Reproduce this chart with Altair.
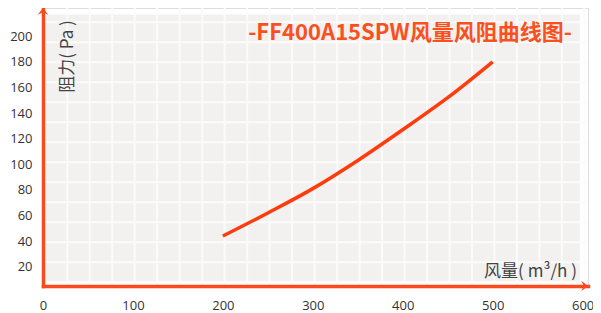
import altair as alt
import pandas as pd

# data
airflow = [200, 250, 300, 350, 400, 450, 500]
resistance = [44, 62, 81, 103, 127, 152, 180]

x_ticks = [0, 100, 200, 300, 400, 500, 600]
y_ticks = [20, 40, 60, 80, 100, 120, 140, 160, 180, 200]
x_grid = list(range(2, 606, 25))
y_grid = [8 + 15.6 * i for i in range(14)]

title_text = "-FF400A15SPW风量风阻曲线图-"
x_title = "风量( m³/h )"
y_title = "阻力( Pa )"

X_DOM = [0, 606]
Y_DOM = [5, 222]
BG_EXT = {"q": [3], "q2": [597], "p": [9], "p2": [217]}

AXIS_COLOR = "#f84a1c"
LINE_COLOR = "#ff3c0c"

df = pd.DataFrame({"q": airflow, "p": resistance})

xs = alt.Scale(domain=X_DOM, nice=False, zero=False)
ys = alt.Scale(domain=Y_DOM, nice=False, zero=False)

x_axis = alt.Axis(
    values=x_ticks, grid=False, ticks=False, domain=True, domainColor=AXIS_COLOR, domainWidth=3.5,
    domainCap="square", labelFont="Open Sans", labelFontSize=13, labelColor="#333333",
    labelPadding=13, labelFlush=False, zindex=1,
    title=x_title, titleFont="Noto Sans CJK SC", titleFontSize=17, titleFontWeight=400,
    titleColor="#444444", titleX=487, titleY=-15, titleAlign="center", titleBaseline="middle")
y_axis = alt.Axis(
    values=y_ticks, grid=False, ticks=False, domain=True, domainColor=AXIS_COLOR, domainWidth=3.5,
    domainCap="square", labelFont="Open Sans", labelFontSize=13, labelColor="#333333",
    labelPadding=11, labelFlush=False, zindex=1,
    title=y_title, titleFont="Noto Sans CJK SC", titleFontSize=17, titleFontWeight=400,
    titleColor="#444444", titleX=24, titleY=48, titleAngle=270, titleAlign="center",
    titleBaseline="middle")

x_enc = alt.X("q:Q", scale=xs, axis=x_axis)
y_enc = alt.Y("p:Q", scale=ys, axis=y_axis)

bg = alt.Chart(pd.DataFrame(BG_EXT)).mark_rect(color="#f2f1ef").encode(
    x=x_enc, x2="q2:Q", y=y_enc, y2="p2:Q")
vgrid = alt.Chart(pd.DataFrame({"q": x_grid})).mark_rule(color="#fbfbfb", strokeWidth=2).encode(x=x_enc)
hgrid = alt.Chart(pd.DataFrame({"p": y_grid})).mark_rule(color="#fbfbfb", strokeWidth=2).encode(y=y_enc)

line = alt.Chart(df).mark_line(color=LINE_COLOR, strokeWidth=3.5, interpolate="monotone", clip=False).encode(
    x=x_enc, y=y_enc)

up_df = pd.DataFrame({"q": [X_DOM[0]], "p": [Y_DOM[1]]})
right_df = pd.DataFrame({"q": [X_DOM[1]], "p": [Y_DOM[0]]})
up_arrow = alt.Chart(up_df).mark_point(
    shape="M-1,1.3 L0,0 L1,1.3 L0,0.8 Z", filled=True, color=AXIS_COLOR, opacity=1, size=110, clip=False
).encode(x=x_enc, y=y_enc)
right_arrow = alt.Chart(right_df).mark_point(
    shape="M-1.3,-1 L0,0 L-1.3,1 L-0.8,0 Z", filled=True, color=AXIS_COLOR, opacity=1, size=110, clip=False
).encode(x=x_enc, y=y_enc)

title = alt.Chart(pd.DataFrame({"t": [title_text]})).mark_text(
    font="Noto Sans CJK SC", fontSize=22, fontWeight="bold", color="#f9501e", align="center", baseline="middle"
).encode(text="t:N", x=alt.value(367), y=alt.value(25))

chart = alt.layer(bg, vgrid, hgrid, line, up_arrow, right_arrow, title).properties(
    width=545, height=278,
    autosize=alt.AutoSizeParams(type="none"),
    padding={"left": 35, "top": 0, "right": 5, "bottom": 27},
).configure_view(stroke=None).configure(background="white")

chart.save("out.html", embed_options={"renderer": "svg", "actions": False})
